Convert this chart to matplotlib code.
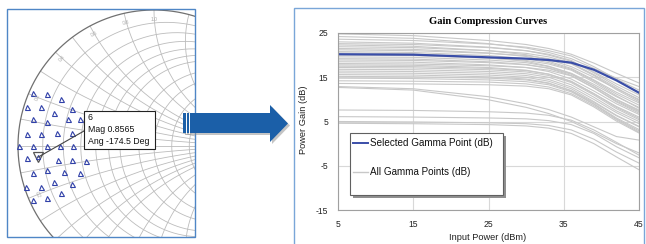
import numpy as np
import matplotlib.pyplot as plt
from matplotlib.patches import Rectangle, Polygon
from matplotlib.lines import Line2D

plt.rcParams['font.family'] = ['Liberation Sans', 'DejaVu Sans']
plt.rcParams['axes.unicode_minus'] = False

W, H = 646, 244

# smith chart grid values (normalised r and x)
smith_r = [0.1, 0.2, 0.3, 0.4, 0.5, 0.6, 0.8, 1.0, 1.3, 1.7, 2.2]
smith_x = [0.1, 0.2, 0.3, 0.4, 0.5, 0.6, 0.8, 1.0, 1.3, 1.7, 2.2]
smith_lbl = [0.2, 0.4, 0.6, 0.8, 1.0]

# load pull gamma points (real / imag)
gamma_re = [-0.890, -0.787, -0.684, -0.934, -0.831, -0.603, -0.890, -0.787, -0.735, -0.632,
            -0.544, -0.934, -0.831, -0.713, -0.603, -0.993, -0.890, -0.787, -0.691, -0.596,
            -0.934, -0.706, -0.603, -0.500, -0.890, -0.787, -0.662, -0.544, -0.941, -0.831,
            -0.735, -0.603, -0.890, -0.787, -0.684]
gamma_im = [0.390, 0.382, 0.346, 0.287, 0.287, 0.272, 0.199, 0.176, 0.243, 0.199,
            0.199, 0.088, 0.088, 0.096, 0.096, 0.0, 0.0, 0.0, 0.0, 0.0,
            -0.088, -0.103, -0.103, -0.110, -0.199, -0.176, -0.191, -0.199, -0.301, -0.301,
            -0.265, -0.279, -0.397, -0.382, -0.346]
sel_id = 6
sel_mag = 0.8565
sel_ang = -174.5

# gain compression curves
pin = [5, 15, 25, 30, 33, 36, 39, 42, 45]
sel_gain = [20.2, 20.1, 19.5, 19.2, 18.9, 18.3, 16.7, 14.3, 11.5]
all_gain = [
    [24.8, 24.4, 23.3, 22.4, 21.5, 20.2, 18.2, 15.9, 13.7],
    [24.2, 23.8, 22.6, 21.6, 20.6, 19.2, 17.0, 14.8, 12.9],
    [23.6, 23.3, 22.5, 21.8, 21.0, 19.8, 17.4, 14.6, 12.1],
    [23.0, 22.7, 21.8, 21.0, 20.0, 18.6, 16.2, 13.5, 11.0],
    [22.6, 22.4, 21.7, 21.0, 20.2, 18.8, 16.0, 13.0, 10.4],
    [22.3, 22.0, 21.0, 20.1, 19.0, 17.4, 15.0, 12.4, 10.0],
    [21.9, 21.7, 21.0, 20.4, 19.6, 18.2, 15.6, 12.6, 9.8],
    [21.5, 21.3, 20.5, 19.7, 18.6, 17.0, 14.4, 11.6, 9.2],
    [21.2, 21.0, 20.4, 19.9, 19.2, 18.0, 15.4, 12.2, 9.5],
    [20.8, 20.6, 19.9, 19.2, 18.3, 16.8, 14.2, 11.2, 8.7],
    [20.5, 20.3, 19.4, 18.6, 17.5, 15.9, 13.4, 10.6, 8.2],
    [20.0, 19.9, 19.3, 18.8, 18.0, 16.6, 13.9, 10.8, 8.0],
    [19.6, 19.5, 18.9, 18.3, 17.4, 15.8, 13.0, 10.0, 7.6],
    [19.2, 19.1, 18.5, 17.9, 17.0, 15.4, 12.6, 9.6, 7.2],
    [18.9, 18.8, 18.3, 17.8, 17.1, 15.7, 13.0, 9.9, 7.4],
    [18.5, 18.4, 17.8, 17.2, 16.3, 14.6, 11.9, 9.0, 6.6],
    [18.1, 18.0, 17.6, 17.2, 16.6, 15.3, 12.6, 9.4, 6.9],
    [17.8, 17.7, 17.2, 16.6, 15.7, 14.0, 11.3, 8.4, 6.0],
    [17.5, 17.4, 17.0, 16.5, 15.7, 14.1, 11.3, 8.2, 5.7],
    [17.2, 17.1, 16.7, 16.2, 15.4, 13.8, 11.0, 7.9, 5.4],
    [16.8, 16.7, 16.3, 15.8, 15.0, 13.3, 10.5, 7.4, 5.0],
    [16.4, 16.3, 15.9, 15.4, 14.5, 12.8, 10.0, 7.0, 4.5],
    [16.0, 15.9, 15.5, 15.0, 14.1, 12.4, 9.5, 6.4, 3.9],
    [15.6, 15.5, 15.1, 14.6, 13.7, 11.9, 9.0, 5.8, 3.2],
    [15.2, 15.1, 14.8, 14.4, 13.6, 12.0, 9.3, 6.3, 3.8],
    [14.8, 14.7, 14.4, 14.0, 13.3, 11.7, 8.9, 5.6, 2.9],
    [14.2, 14.1, 13.9, 13.5, 12.8, 11.3, 8.6, 5.4, 2.6],
    [13.6, 13.5, 13.3, 13.0, 12.4, 11.0, 8.3, 5.1, 2.4],
    [12.9, 12.4, 10.6, 9.0, 7.7, 6.0, 3.8, 1.6, 0.8],
    [12.7, 12.1, 9.9, 8.2, 6.8, 5.0, 2.6, 0.0, -2.1],
    [7.6, 7.5, 7.2, 6.9, 6.4, 5.3, 3.1, 0.3, -2.6],
    [6.1, 6.0, 5.8, 5.6, 5.2, 4.3, 2.3, -0.7, -3.2],
    [5.0, 4.9, 4.7, 4.5, 4.1, 3.1, 1.0, -1.9, -4.4],
    [4.6, 4.5, 4.3, 4.0, 3.5, 2.3, 0.0, -3.0, -5.9],
]


def fx(px):
    return px / W


def fy(py):
    return 1 - py / H


fig = plt.figure(figsize=(W / 100, H / 100), dpi=100)

# ---------------- smith chart (left) ----------------
ax1 = fig.add_axes([fx(7), fy(237), 188 / W, 228 / H])
ylo, yhi = (146 - 237) / 136, (146 - 9) / 136
ax1.set_xlim((7 - 154) / 136, (195 - 154) / 136)
ax1.set_ylim(ylo, yhi)
ax1.axis('off')

grid_c = '#bcbcbc'
t = np.linspace(0, 2 * np.pi, 500)
for r in smith_r:
    c = r / (1 + r)
    rad = 1 / (1 + r)
    ax1.plot(c + rad * np.cos(t), rad * np.sin(t), color=grid_c, lw=0.6)
rr = np.concatenate([np.linspace(0, 3, 300), np.logspace(np.log10(3.01), 3, 100)])
for xv in smith_x:
    for s in (1, -1):
        z = rr + 1j * s * xv
        g = (z - 1) / (z + 1)
        ax1.plot(g.real, g.imag, color=grid_c, lw=0.6)
ax1.plot([-1, 1], [0, 0], color=grid_c, lw=0.6)
ax1.plot(np.cos(t), np.sin(t), color='#707070', lw=0.9)

for xv in smith_lbl:
    for s in (1, -1):
        th = np.pi - 2 * np.arctan(xv)
        lx, ly = 0.93 * np.cos(th), s * 0.93 * np.sin(th)
        if ly < ylo + 0.05 or ly > yhi - 0.03:
            continue
        ax1.text(lx, ly, '%.1f' % xv, fontsize=3.5,
                 color='#a8a8a8', ha='center', va='center',
                 rotation=s * (np.degrees(th) - 90))

ax1.plot(gamma_re, gamma_im, ls='none', marker='^', ms=3.6, mfc='none',
         mec='#3040a8', mew=0.8)
sel_re = sel_mag * np.cos(np.radians(sel_ang))
sel_im = sel_mag * np.sin(np.radians(sel_ang))
ax1.plot([sel_re], [sel_im], ls='none', marker='v', ms=6.5, mfc='none', mec='#555555', mew=0.9)
ax1.plot([sel_re], [sel_im], ls='none', marker='^', ms=3.0, mfc='none', mec='#3040a8', mew=0.7)
ax1.annotate('', xy=(sel_re, sel_im), xycoords='data',
             xytext=(84, H - 131), textcoords='figure pixels',
             arrowprops=dict(arrowstyle='-', color='#454545', lw=0.8, shrinkA=0, shrinkB=0))

# tooltip
fig.patches.append(Rectangle((fx(84), fy(149)), 71 / W, 38 / H, transform=fig.transFigure,
                             fc='white', ec='#222222', lw=0.8, zorder=5))
tip_lines = [str(sel_id), 'Mag %.4f' % sel_mag, 'Ang %.1f Deg' % sel_ang]
for i, s in enumerate(tip_lines):
    fig.text(fx(88), fy(117 + 12.3 * i), s, fontsize=6.3, va='center', ha='left',
             color='#111111', zorder=6)

# left panel border
fig.patches.append(Rectangle((fx(7), fy(237)), 188 / W, 228 / H, transform=fig.transFigure,
                             fc='none', ec='#4f86c6', lw=1.0, zorder=4))

# ---------------- arrow ----------------
arrow_pts = [(183, 113), (270, 113), (270, 105), (288, 123.5), (270, 142), (270, 133), (183, 133)]
fig.patches.append(Polygon([(fx(x + 2), fy(y + 2)) for x, y in arrow_pts], closed=True,
                           transform=fig.transFigure, fc='#8a8a8a', ec='none', alpha=0.5, zorder=7))
fig.patches.append(Polygon([(fx(x), fy(y)) for x, y in arrow_pts], closed=True,
                           transform=fig.transFigure, fc='#1b5fa8', ec='none', zorder=8))
for xs in (185.5, 188.5):
    fig.lines.append(Line2D([fx(xs), fx(xs)], [fy(113), fy(133)], transform=fig.transFigure,
                            color='white', lw=0.7, zorder=9))

# right panel border
fig.patches.append(Rectangle((fx(294), fy(250)), 350 / W, 242 / H, transform=fig.transFigure,
                             fc='none', ec='#7aa6d8', lw=1.0, zorder=4))

# ---------------- gain compression chart (right) ----------------
ax2 = fig.add_axes([fx(338), fy(210), 301 / W, 177 / H])
for row in all_gain:
    ax2.plot(pin, row, color='#c8c8c8', lw=0.8)
ax2.plot(pin, sel_gain, color='#3a4ea8', lw=1.6)
ax2.set_xlim(5, 45)
ax2.set_ylim(-15, 25)
ax2.set_xticks([5, 15, 25, 35, 45])
ax2.set_yticks([-15, -5, 5, 15, 25])
ax2.grid(True, color='#d8d8d8', lw=0.8)
ax2.set_axisbelow(True)
ax2.tick_params(length=0, labelsize=6.2, colors='#222222')
ax2.tick_params(axis='y', pad=7)
ax2.tick_params(axis='x', pad=7)
for sp in ax2.spines.values():
    sp.set_color('#a0a0a0')
    sp.set_linewidth(0.8)

fig.text(fx(488), fy(22), 'Gain Compression Curves', family='Liberation Serif',
         weight='bold', fontsize=7.6, ha='center', va='center')
fig.text(fx(488), fy(237), 'Input Power (dBm)', fontsize=6.7, ha='center', va='center',
         color='#222222')
fig.text(fx(303), fy(120), 'Power Gain (dB)', fontsize=6.7, ha='center', va='center',
         rotation=90, color='#222222')

# legend
fig.patches.append(Rectangle((fx(352.5), fy(197.5)), 153 / W, 62 / H, transform=fig.transFigure,
                             fc='#909090', ec='none', zorder=10))
fig.patches.append(Rectangle((fx(350), fy(195)), 153 / W, 62 / H, transform=fig.transFigure,
                             fc='white', ec='#606060', lw=0.8, zorder=11))
fig.lines.append(Line2D([fx(353), fx(368)], [fy(143), fy(143)], transform=fig.transFigure,
                        color='#3a4ea8', lw=1.4, zorder=12))
fig.lines.append(Line2D([fx(353), fx(368)], [fy(172), fy(172)], transform=fig.transFigure,
                        color='#c8c8c8', lw=1.0, zorder=12))
fig.text(fx(370), fy(143), 'Selected Gamma Point (dB)', fontsize=7.1, va='center',
         color='#111111', zorder=13)
fig.text(fx(370), fy(172), 'All Gamma Points (dB)', fontsize=7.1, va='center',
         color='#111111', zorder=13)

plt.savefig('out.png', dpi=100)
plt.close()
